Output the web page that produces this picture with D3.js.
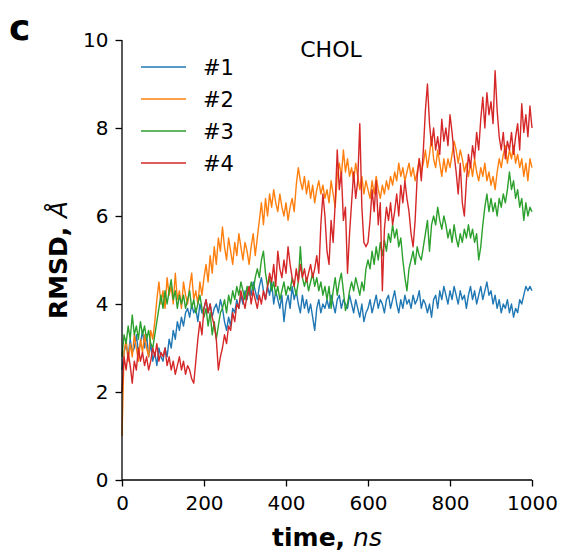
<!DOCTYPE html>
<html>
<head>
<meta charset="utf-8">
<script src="https://cdn.jsdelivr.net/npm/d3@7"></script>
<style>
  html, body { margin: 0; padding: 0; background: #fff; }
  svg { display: block; font-family: "DejaVu Sans", sans-serif; }
</style>
</head>
<body>
<svg id="chart" width="564" height="556"></svg>
<script>
const timeStep = 5; // ns between samples
const seriesNames = ["#1", "#2", "#3", "#4"];
const seriesColors = ["#1f77b4", "#ff7f0e", "#2ca02c", "#d62728"];
const xTicks = [0, 200, 400, 600, 800, 1000];
const yTicks = [0, 2, 4, 6, 8, 10];

const rmsd1 = [
  2.5, 2.9, 3.1, 2.8, 3.2, 2.9, 3.0, 3.3, 2.9, 3.1,
  3.4, 3.0, 3.3, 2.8, 3.1, 2.7, 2.9, 2.6, 3.0, 2.8,
  2.7, 3.0, 2.8, 3.2, 3.0, 3.4, 3.2, 3.6, 3.4, 3.7,
  3.5, 3.8, 3.9, 3.7, 4.0, 3.8, 3.9, 3.6, 4.0, 3.8,
  3.9, 4.1, 3.8, 4.0, 3.7, 3.9, 4.0, 3.8, 4.1, 3.9,
  3.6, 3.4, 3.7, 3.5, 3.9, 3.8, 4.1, 3.9, 4.2, 4.0,
  4.3, 4.1, 4.4, 4.2, 4.5, 4.3, 4.1, 4.4, 4.6, 4.3,
  4.1, 4.4, 4.2, 4.5, 4.0, 4.3, 4.1, 3.9, 4.2, 3.6,
  4.0, 4.2, 3.9, 4.4, 4.1, 4.3, 4.0, 3.8, 4.2, 3.9,
  4.1, 3.8, 4.0, 3.7, 3.4, 3.9, 4.1, 3.8, 4.0, 3.9,
  4.1, 3.9, 4.2, 4.0, 3.8, 4.1, 4.2, 3.9, 4.1, 4.0,
  3.9, 4.2, 4.0, 3.8, 4.1, 3.9, 3.7, 4.0, 3.6, 3.8,
  3.9, 4.1, 3.8, 4.0, 4.2, 3.9, 4.1, 4.0, 3.8, 4.1,
  4.2, 3.9, 4.1, 4.3, 4.0, 3.8, 4.1, 3.9, 4.2, 4.0,
  4.1, 3.9, 4.2, 4.0, 4.1, 4.3, 3.9, 4.1, 4.0, 3.8,
  4.0, 3.7, 4.1, 4.2, 3.9, 4.3, 4.1, 4.4, 4.2, 4.0,
  4.3, 4.1, 4.4, 4.2, 4.0, 4.3, 4.1, 4.2, 3.9, 4.2,
  4.4, 4.1, 4.3, 4.0, 4.2, 4.4, 4.1, 4.3, 4.5, 4.2,
  4.3, 4.0, 4.2, 3.9, 4.1, 3.8, 4.0, 3.9, 4.1, 3.8,
  4.0, 3.7, 3.9, 3.8, 4.1, 4.0, 4.2, 4.4, 4.3, 4.4,
  4.3
];
const rmsd2 = [
  1.0, 2.9, 3.2, 2.7, 3.1, 2.8, 3.3, 3.0, 2.7, 3.2,
  2.9, 3.3, 3.0, 2.8, 3.4, 3.2, 3.6, 4.1, 4.5, 4.0,
  4.3, 3.9, 4.6, 4.2, 4.4, 4.0, 4.7, 4.1, 4.3, 3.9,
  4.5, 4.2, 4.0, 4.4, 4.7, 4.1, 4.3, 4.0, 4.5, 4.2,
  4.6, 4.9, 4.5, 5.1, 4.7, 5.3, 4.9, 5.5, 5.2, 5.75,
  5.3, 5.0, 5.5, 5.2, 4.9, 5.4, 5.1, 5.6, 5.3, 5.0,
  5.4, 5.2, 4.9, 5.3, 5.6, 5.1, 5.5, 5.9, 6.3, 5.8,
  6.4, 6.0, 6.5, 6.2, 6.6, 6.3, 6.1, 6.5, 6.2, 6.0,
  6.3, 5.9, 6.2, 6.4, 6.1, 6.7, 7.1, 6.8, 6.6, 6.9,
  6.5, 6.8, 6.4, 6.7, 6.3, 6.6, 6.8, 6.5, 6.7, 6.4,
  6.6, 6.3, 6.8, 6.5, 6.2, 6.9, 7.2, 6.9, 7.5, 7.0,
  7.3, 6.9, 7.1, 6.8, 7.2, 6.9, 6.6, 6.9, 6.5, 6.8,
  6.6, 6.4, 6.8, 6.5, 6.9, 6.6, 6.4, 6.7, 6.5, 6.8,
  6.6, 6.9, 6.7, 7.0, 6.8, 7.2, 6.9, 7.1, 6.8, 7.0,
  7.2, 6.9, 7.1, 6.8, 7.0, 7.3, 7.0, 7.2, 7.5, 7.1,
  7.4, 7.8, 7.3, 7.1, 7.5, 7.2, 6.9, 7.3, 7.0, 7.3,
  7.1, 7.4, 7.7, 7.5, 7.2, 7.5, 7.3, 7.0, 7.2, 6.9,
  7.2, 6.9, 7.3, 7.0, 6.8, 7.1, 6.9, 7.2, 6.8, 7.0,
  6.7, 6.9, 6.6, 7.0, 7.3, 7.1, 7.4, 7.6, 7.2, 7.5,
  7.3, 7.6, 7.2, 7.4, 7.1, 7.3, 6.9, 7.2, 6.8, 7.3,
  7.1
];
const rmsd3 = [
  2.8, 3.3, 3.1, 3.5, 3.2, 3.75, 3.3, 3.5, 3.2, 3.6,
  3.3, 3.5, 3.2, 3.4, 3.1, 3.0, 3.3, 3.6, 3.9, 4.2,
  3.9, 4.3, 4.0, 4.3, 4.55, 4.1, 4.3, 3.9, 4.2, 4.0,
  4.2, 3.9, 4.1, 4.3, 3.9, 4.1, 3.8, 4.0, 4.2, 3.9,
  3.7, 3.9, 3.5, 3.8, 3.3, 3.6, 3.2, 3.5, 3.8, 3.9,
  4.1, 3.8, 4.2, 4.0, 4.3, 4.1, 4.4, 4.2, 4.5, 4.3,
  4.1, 4.4, 4.2, 4.5, 4.3, 4.6, 4.8, 4.6, 5.0, 5.2,
  4.7, 4.4, 4.6, 4.3, 4.5, 4.2, 4.4, 4.1, 4.3, 4.5,
  4.2, 4.4, 4.3, 4.6, 4.4, 4.2, 4.5, 5.3, 4.6, 4.4,
  4.6, 4.3, 4.5, 4.7, 4.4, 4.6, 4.3, 4.5, 4.2, 4.4,
  4.1, 4.4, 3.9, 4.3, 4.6, 4.2, 4.5, 4.7, 4.3, 3.85,
  4.0, 4.3, 4.5, 4.3, 4.6, 4.4, 4.2, 4.5, 4.3, 4.8,
  5.0, 4.8, 5.2, 4.9, 5.3, 5.0, 5.4, 5.1, 5.45, 5.2,
  5.6, 5.4, 5.8, 5.5, 5.7, 5.3, 5.5, 5.0, 4.6, 4.3,
  4.8, 5.0, 5.2, 4.9, 5.3, 5.1, 5.0, 5.3, 5.6, 5.9,
  5.2, 5.8, 6.0, 5.8, 6.2, 5.9, 5.7, 6.0, 5.8, 5.5,
  5.7, 5.4, 5.8, 5.5, 5.3, 5.6, 5.4, 5.7, 5.5, 5.8,
  5.5, 5.7, 5.4, 5.6, 5.0, 5.3, 5.8, 6.2, 6.5, 6.1,
  6.4, 6.1, 6.3, 6.0, 6.4, 6.2, 6.5, 6.3, 6.6, 7.0,
  6.6, 6.8, 6.4, 6.6, 6.2, 6.4, 5.9, 6.3, 6.0, 6.2,
  6.1
];
const rmsd4 = [
  2.0, 2.8, 2.5, 2.9, 2.6, 2.2, 2.7, 2.5, 3.0, 2.7,
  2.9, 2.6, 2.8, 2.5, 2.7, 3.0, 2.8, 3.1, 2.7, 2.9,
  2.8, 3.0, 2.6, 2.8, 2.5, 2.7, 2.4, 2.6, 2.8, 2.5,
  2.7, 2.4, 2.6, 2.5, 2.3, 2.2, 2.7, 3.2, 3.6, 3.3,
  3.9, 4.1, 3.8, 4.0, 3.7, 3.5, 3.2, 2.5, 2.8, 3.0,
  3.3, 3.1, 3.5, 3.4, 3.8, 3.6, 4.0, 3.9, 4.3, 4.1,
  3.9, 4.2, 4.4, 4.0, 4.3, 4.1, 3.9, 4.2, 4.0, 4.3,
  4.1, 4.4, 4.7, 4.5, 4.9, 4.4, 5.2, 4.8, 4.6, 5.0,
  4.7, 5.3, 4.9, 4.6, 4.4, 4.8, 4.5, 4.9, 4.6, 4.8,
  4.5, 4.7, 4.9, 4.6, 4.8, 5.1, 4.7, 5.8, 6.5, 6.0,
  5.2, 4.9, 5.9, 5.4, 6.3, 7.5, 6.6, 7.0, 5.9, 6.2,
  4.7, 5.6, 6.3, 7.0, 6.4, 6.8, 8.1, 6.2, 5.4, 5.3,
  5.4, 5.9, 6.6, 6.1, 6.8, 5.8, 6.3, 4.3, 5.7, 6.2,
  5.9, 6.3, 5.8, 6.1, 6.5, 6.0, 6.7, 6.3, 6.8, 6.4,
  6.1, 5.6, 5.3, 5.9, 6.9, 7.3, 6.8, 7.5, 8.4, 9.0,
  8.1, 7.6, 8.0, 7.5, 7.8, 7.4, 8.2, 7.7, 8.0, 7.6,
  8.3, 7.9, 7.4, 7.0, 6.5, 7.2, 6.3, 6.0, 6.8, 7.4,
  7.1, 7.6, 7.3, 7.9, 7.5, 8.2, 8.7, 8.0, 8.8, 8.3,
  8.6, 8.1, 9.3, 8.4, 7.8, 7.5, 7.9, 7.3, 7.7, 7.5,
  7.9, 7.4, 7.8, 8.1, 7.5, 8.55, 7.9, 8.3, 7.8, 8.5,
  8.0
];
const allSeries = [rmsd1, rmsd2, rmsd3, rmsd4];

const svg = d3.select("#chart");
const margin = { left: 122, right: 32, top: 40, bottom: 76 };
const W = 564, H = 556;

const x = d3.scaleLinear().domain([0, 1000]).range([margin.left, W - margin.right]);
const y = d3.scaleLinear().domain([0, 10]).range([H - margin.bottom, margin.top]);

// lines
const line = d3.line()
  .x((d, i) => x(i * timeStep))
  .y(d => y(d));

allSeries.forEach((s, k) => {
  svg.append("path")
    .datum(s)
    .attr("fill", "none")
    .attr("stroke", seriesColors[k])
    .attr("stroke-width", 1.4)
    .attr("stroke-linejoin", "round")
    .attr("d", line);
});

// axes
const xAxis = d3.axisBottom(x).tickValues(xTicks).tickSize(6.5).tickPadding(9).tickFormat(d3.format("d"));
const yAxis = d3.axisLeft(y).tickValues(yTicks).tickSize(6.5).tickPadding(7).tickFormat(d3.format("d"));

const gx = svg.append("g").attr("transform", `translate(0,${y(0)})`).call(xAxis);
const gy = svg.append("g").attr("transform", `translate(${x(0)},0)`).call(yAxis);

[gx, gy].forEach(g => {
  g.select(".domain").attr("stroke", "#000").attr("stroke-width", 1.3);
  g.selectAll(".tick line").attr("stroke", "#000").attr("stroke-width", 1.3);
  g.selectAll(".tick text")
    .attr("fill", "#000")
    .style("font-family", "DejaVu Sans")
    .style("font-size", "20px");
});
gx.select(".domain").attr("d", `M${x(0)},0H${x(1000)}`);
gy.select(".domain").attr("d", `M0,${y(0)}V${y(10)}`);

// axis labels
const xl = svg.append("text")
  .attr("x", (x(0) + x(1000)) / 2)
  .attr("y", 546)
  .attr("text-anchor", "middle")
  .style("font-size", "25px")
  .style("fill", "#000");
xl.append("tspan").style("font-weight", "bold").text("time,");
xl.append("tspan").style("font-style", "italic").text(" ns");

const yl = svg.append("text")
  .attr("transform", `translate(67,${(y(0) + y(10)) / 2}) rotate(-90)`)
  .attr("text-anchor", "middle")
  .style("font-size", "25px")
  .style("fill", "#000");
yl.append("tspan").style("font-weight", "bold").text("RMSD, ");
yl.append("tspan").style("font-style", "italic").text("Å");

// panel letter
svg.append("text")
  .attr("x", 9).attr("y", 40)
  .style("font-size", "36px").style("font-weight", "bold")
  .text("c");

// title
svg.append("text")
  .attr("x", 331).attr("y", 57)
  .attr("text-anchor", "middle")
  .style("font-size", "22px")
  .text("CHOL");

// legend
const legY = [67, 99, 131, 163];
seriesNames.forEach((name, k) => {
  svg.append("line")
    .attr("x1", 141).attr("x2", 186)
    .attr("y1", legY[k]).attr("y2", legY[k])
    .attr("stroke", seriesColors[k]).attr("stroke-width", 1.4);
  svg.append("text")
    .attr("x", 203).attr("y", legY[k])
    .attr("dy", "0.36em")
    .style("font-size", "21px")
    .text(name);
});
</script>
</body>
</html>
